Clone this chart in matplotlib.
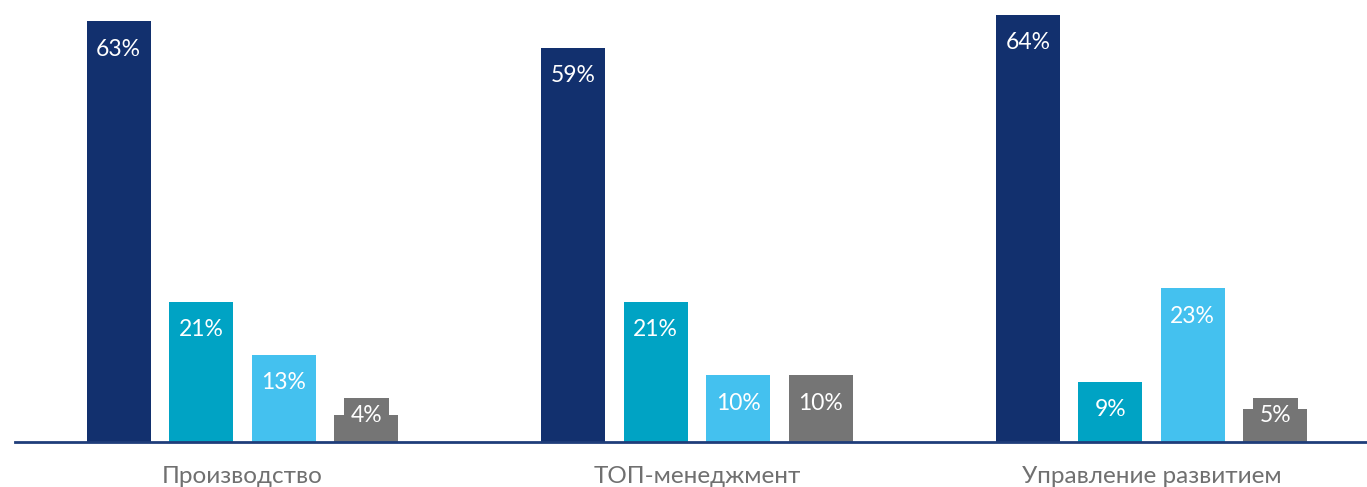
import numpy as np
import matplotlib.pyplot as plt

plt.rcParams['font.family'] = ['Lato', 'DejaVu Sans']

# survey shares per department
categories = ['Производство', 'ТОП-менеджмент', 'Управление развитием']
series_1 = [63, 59, 64]
series_2 = [21, 21, 9]
series_3 = [13, 10, 23]
series_4 = [4, 10, 5]

colors = ['#12306e', '#00a3c4', '#44c1ef', '#757575']
series = [series_1, series_2, series_3, series_4]

fig = plt.figure(figsize=(13.67, 4.87), dpi=100)
ax = fig.add_axes([15 / 1367, 45 / 487, 1 - 15 / 1367, 442 / 487])

x = np.arange(len(categories))
step = 0.1815
width = 0.141

for j, (vals, col) in enumerate(zip(series, colors)):
    pos = x + (j - 1.5) * step
    ax.bar(pos, vals, width=width, color=col, zorder=2)
    for p, v in zip(pos, vals):
        if v >= 8:
            ax.annotate(f'{v}%', (p, v), xytext=(0, -20), textcoords='offset points',
                        ha='center', va='center', color='white', fontsize=16.5)
        else:
            # short bar: label sits on a tab of the bar colour
            ax.annotate(f'{v}%', (p, 0), xytext=(0, 19), textcoords='offset points',
                        ha='center', va='center', color='white', fontsize=16.5,
                        bbox=dict(boxstyle='square,pad=0.3', fc=col, ec='none'))

ax.set_xlim(-0.5005, 2.474)
ax.set_ylim(0, 66.2)
ax.set_xticks(x)
ax.set_xticklabels(categories, fontsize=17.5, color='#707070')
ax.tick_params(axis='x', length=0, pad=17)
ax.set_yticks([])
for s in ['top', 'right', 'left']:
    ax.spines[s].set_visible(False)
ax.spines['bottom'].set_color('#1f3d7a')
ax.spines['bottom'].set_linewidth(2)
ax.patch.set_alpha(0)

fig.savefig('out.png', dpi=100)
